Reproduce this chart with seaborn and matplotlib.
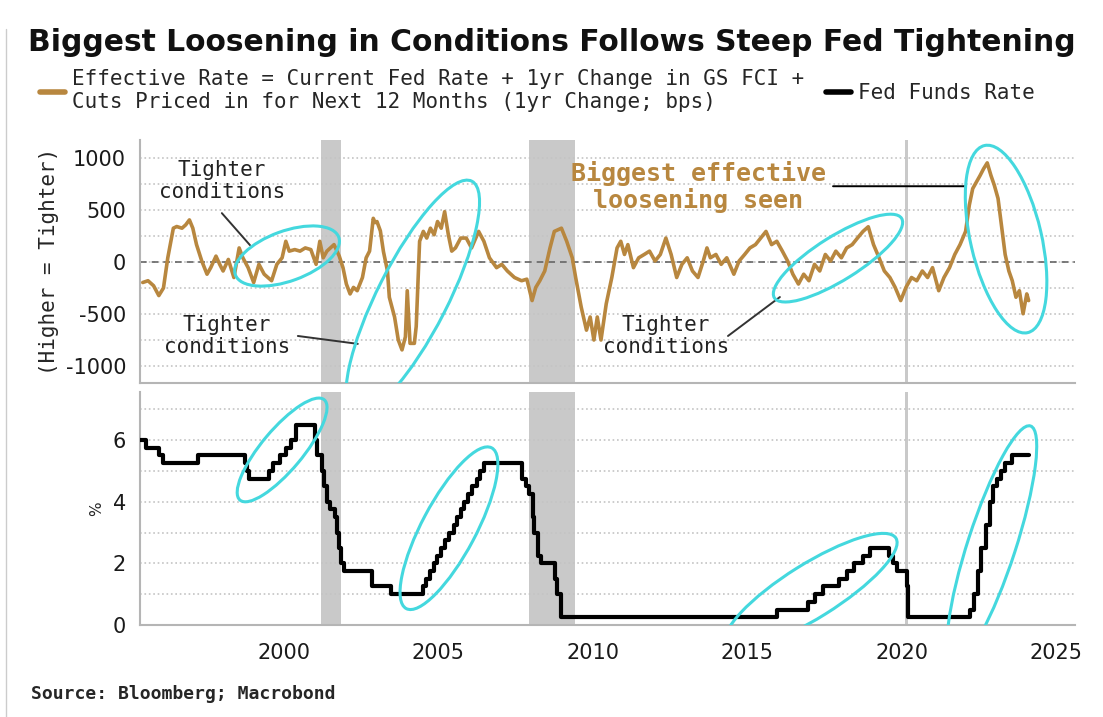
import matplotlib
matplotlib.use('Agg')
import matplotlib.pyplot as plt
from matplotlib.lines import Line2D
from matplotlib.patches import Ellipse
from matplotlib.transforms import ScaledTranslation
from matplotlib.ticker import MultipleLocator
import numpy as np
import pandas as pd
import seaborn as sns

# effective rate, 1yr change in bps
eff_year = [1995.43, 1995.60, 1995.78, 1995.95, 1996.10, 1996.24, 1996.42, 1996.53, 1996.70, 1996.82,
            1996.94, 1997.05, 1997.17, 1997.34, 1997.51, 1997.63, 1997.80, 1997.92, 1998.03, 1998.20,
            1998.38, 1998.55, 1998.67, 1998.84, 1999.02, 1999.19, 1999.36, 1999.60, 1999.77, 1999.94,
            2000.06, 2000.17, 2000.35, 2000.52, 2000.69, 2000.87, 2001.04, 2001.16, 2001.27, 2001.39,
            2001.62, 2001.79, 2001.91, 2002.02, 2002.14, 2002.25, 2002.37, 2002.54, 2002.66, 2002.77,
            2002.89, 2002.95, 2003.01, 2003.12, 2003.22, 2003.35, 2003.41, 2003.58, 2003.70, 2003.82,
            2003.93, 2003.99, 2004.08, 2004.22, 2004.28, 2004.39, 2004.51, 2004.62, 2004.74, 2004.86,
            2004.97, 2005.09, 2005.20, 2005.32, 2005.43, 2005.55, 2005.72, 2005.90, 2006.07, 2006.30,
            2006.47, 2006.65, 2006.88, 2007.05, 2007.23, 2007.46, 2007.69, 2007.86, 2008.03, 2008.15,
            2008.28, 2008.44, 2008.61, 2008.75, 2008.98, 2009.15, 2009.33, 2009.44, 2009.62, 2009.79,
            2009.91, 2010.03, 2010.14, 2010.26, 2010.43, 2010.61, 2010.78, 2010.90, 2011.02, 2011.13,
            2011.31, 2011.48, 2011.66, 2011.83, 2012.01, 2012.18, 2012.36, 2012.53, 2012.71, 2012.88,
            2013.05, 2013.22, 2013.40, 2013.57, 2013.69, 2013.80, 2013.98, 2014.15, 2014.33, 2014.56,
            2014.73, 2014.91, 2015.08, 2015.26, 2015.43, 2015.60, 2015.78, 2015.95, 2016.13, 2016.30,
            2016.47, 2016.65, 2016.82, 2016.99, 2017.17, 2017.34, 2017.52, 2017.69, 2017.86, 2018.04,
            2018.21, 2018.39, 2018.56, 2018.74, 2018.91, 2019.08, 2019.26, 2019.43, 2019.61, 2019.78,
            2019.96, 2020.13, 2020.31, 2020.48, 2020.66, 2020.83, 2020.99, 2021.19, 2021.36, 2021.54,
            2021.71, 2021.88, 2022.06, 2022.18, 2022.29, 2022.41, 2022.53, 2022.64, 2022.76, 2022.88,
            2022.99, 2023.11, 2023.22, 2023.34, 2023.46, 2023.57, 2023.69, 2023.80, 2023.92, 2024.04,
            2024.10]
eff_bps = [-197, -180, -228, -323, -250, 41, 326, 342, 326, 358,
           406, 326, 168, 10, -117, -54, 57, -22, -86, 25,
           -149, 136, 41, -54, -197, -22, -117, -180, -22, 41,
           200, 105, 120, 105, 136, 120, -22, 200, 41, 105,
           168, 57, -54, -212, -307, -244, -276, -149, 41, 105,
           421, 380, 390, 300, 100, -86, -339, -530, -751, -846,
           -720, -276, -783, -783, -620, 200, 295, 231, 326, 263,
           390, 326, 485, 263, 105, 136, 231, 231, 136, 295,
           200, 41, -54, -22, -86, -149, -180, -165, -371, -244,
           -180, -86, 136, 295, 326, 200, 41, -149, -434, -656,
           -529, -751, -529, -751, -402, -149, 136, 200, 73, 168,
           -54, 41, 73, 105, 10, 73, 231, 73, -149, -22,
           41, -86, -149, 10, 136, 41, 73, -22, 41, -117,
           10, 73, 136, 168, 231, 295, 168, 200, 105, 10,
           -117, -212, -117, -180, -22, -86, 73, 10, 105, 41,
           136, 168, 231, 295, 340, 168, 41, -86, -149, -244,
           -371, -244, -149, -180, -86, -149, -54, -276, -149, -54,
           73, 168, 295, 548, 707, 770, 834, 897, 955, 834,
           739, 612, 358, 73, -86, -180, -339, -276, -498, -307,
           -371]

# fed funds rate (upper bound), value from each change date
ffr_year = [1995.33, 1995.54, 1995.96, 1996.08, 1997.23, 1998.74, 1998.79, 1998.88, 1999.50, 1999.65,
            1999.88, 2000.08, 2000.22, 2000.38, 2001.01, 2001.08, 2001.22, 2001.30, 2001.38, 2001.49,
            2001.64, 2001.71, 2001.78, 2001.85, 2001.95, 2002.85, 2003.48, 2004.49, 2004.61, 2004.72,
            2004.86, 2004.95, 2005.09, 2005.22, 2005.34, 2005.49, 2005.60, 2005.72, 2005.83, 2005.95,
            2006.08, 2006.24, 2006.36, 2006.49, 2007.71, 2007.83, 2007.94, 2008.06, 2008.08, 2008.21,
            2008.33, 2008.77, 2008.83, 2008.96, 2015.96, 2016.95, 2017.20, 2017.45, 2017.95, 2018.22,
            2018.45, 2018.74, 2018.97, 2019.58, 2019.71, 2019.83, 2020.17, 2020.20, 2022.20, 2022.34,
            2022.45, 2022.57, 2022.72, 2022.84, 2022.95, 2023.08, 2023.22, 2023.34, 2023.56, 2024.10]
ffr_pct = [6.00, 5.75, 5.50, 5.25, 5.50, 5.25, 5.00, 4.75, 5.00, 5.25,
           5.50, 5.75, 6.00, 6.50, 6.00, 5.50, 5.00, 4.50, 4.00, 3.75,
           3.50, 3.00, 2.50, 2.00, 1.75, 1.25, 1.00, 1.25, 1.50, 1.75,
           2.00, 2.25, 2.50, 2.75, 3.00, 3.25, 3.50, 3.75, 4.00, 4.25,
           4.50, 4.75, 5.00, 5.25, 4.75, 4.50, 4.25, 3.50, 3.00, 2.25,
           2.00, 1.50, 1.00, 0.25, 0.50, 0.75, 1.00, 1.25, 1.50, 1.75,
           2.00, 2.25, 2.50, 2.25, 2.00, 1.75, 1.25, 0.25, 0.50, 1.00,
           1.75, 2.50, 3.25, 4.00, 4.50, 4.75, 5.00, 5.25, 5.50, 5.50]

recessions = [(2001.2, 2001.85), (2007.92, 2009.42), (2020.1, 2020.2)]

x_ticks = [2000, 2005, 2010, 2015, 2020, 2025]
top_ticks = [-1000, -500, 0, 500, 1000]
bottom_ticks = [0, 2, 4, 6]

# hand drawn circles: x, y, width(in), height(in), angle
top_rings = [(2000.1, 58, 1.10, 0.50, 20), (2004.17, -337, 2.60, 0.70, 63),
             (2017.93, 38, 1.50, 0.44, 32), (2023.37, 221, 1.92, 0.71, 103)]
bottom_rings = [(1999.94, 5.68, 1.31, 0.41, 50), (2005.34, 3.14, 1.82, 0.54, 62),
                (2017.06, 1.10, 2.00, 0.54, 32), (2022.91, 2.60, 2.50, 0.48, 72)]

TAN = '#b8873f'
CYAN = '#44d8de'
GRID = '#c4c4c4'
MONO = 'DejaVu Sans Mono'

sns.set_style('white')
plt.rcParams['font.family'] = ['DejaVu Sans']
plt.rcParams['axes.unicode_minus'] = False

fig = plt.figure(figsize=(11.03, 7.17), dpi=100)
ax1 = fig.add_axes([0.1269, 0.4658, 0.8477, 0.3389])
ax2 = fig.add_axes([0.1269, 0.1283, 0.8477, 0.3250], sharex=ax1)

eff = pd.DataFrame({'year': eff_year, 'bps': eff_bps})
ffr = pd.DataFrame({'year': ffr_year, 'rate': ffr_pct})

for ax in (ax1, ax2):
    for a, b in recessions:
        ax.axvspan(a, b, color='#c9c9c9', lw=0, zorder=0)

sns.lineplot(data=eff, x='year', y='bps', ax=ax1, color=TAN, lw=2.6, zorder=3)
sns.lineplot(data=ffr, x='year', y='rate', ax=ax2, color='black', lw=3,
             drawstyle='steps-post', zorder=3)

ax1.set_xlim(1995.34, 2025.6)
ax1.set_ylim(-1165, 1175)
ax2.set_ylim(0, 7.56)

ax1.set_yticks(top_ticks)
ax1.yaxis.set_minor_locator(MultipleLocator(250))
ax2.set_yticks(bottom_ticks)
ax2.yaxis.set_minor_locator(MultipleLocator(1))
ax2.set_xticks(x_ticks)

for ax in (ax1, ax2):
    ax.grid(axis='y', which='both', ls=':', color=GRID, lw=1.2)
    ax.grid(axis='x', visible=False)
    sns.despine(ax=ax)
    for s in ('left', 'bottom'):
        ax.spines[s].set_color('#b5b5b5')
        ax.spines[s].set_linewidth(1.5)
    ax.tick_params(axis='y', which='both', length=0, pad=10, labelsize=15, labelcolor='#1a1a1a')
    ax.set_xlabel('')
ax1.axhline(0, ls=(0, (4, 3)), color='#666666', lw=1.2, zorder=1)
ax1.tick_params(axis='x', labelbottom=False, length=0)
ax2.tick_params(axis='x', length=6, width=1.2, color='#aaaaaa', pad=7, labelsize=15, labelcolor='#1a1a1a')

ax1.set_ylabel('(Higher = Tighter)', fontfamily=MONO, fontsize=15, labelpad=5)
ax2.set_ylabel('%', fontsize=11, labelpad=6)


def ring(ax, x, y, w, h, ang):
    tr = fig.dpi_scale_trans + ScaledTranslation(x, y, ax.transData)
    ax.add_patch(Ellipse((0, 0), w, h, angle=ang, transform=tr, fill=False,
                         ec=CYAN, lw=2.2, zorder=4))


for r in top_rings:
    ring(ax1, *r)
for r in bottom_rings:
    ring(ax2, *r)

# annotations
for xy, xytext, col in [((1998.9, 163), (1997.99, 471), '#333333'),
                        ((2002.39, -788), (2000.45, -712), '#333333'),
                        ((2016.05, -337), (2014.37, -712), '#333333'),
                        ((2022.04, 730), (2017.77, 730), 'black')]:
    ax1.annotate('', xy=xy, xytext=xytext,
                 arrowprops=dict(arrowstyle='-', color=col, lw=1.4, shrinkA=0, shrinkB=0))

for x, y in [(1997.99, 779), (1998.16, -712), (2012.36, -712)]:
    ax1.text(x, y, 'Tighter\nconditions', ha='center', va='center', fontfamily=MONO,
             fontsize=15, color='#222', linespacing=1.1, zorder=5)
ax1.text(2013.4, 726, 'Biggest effective\nloosening seen', ha='center', va='center',
         fontfamily=MONO, fontweight='bold', fontsize=18, color=TAN, linespacing=1.1, zorder=5)

# title, legend, source
fig.text(0.0254, 0.941, 'Biggest Loosening in Conditions Follows Steep Fed Tightening',
         fontsize=21.4, fontweight='bold', va='center', color='#111111')
handles = [Line2D([], [], color=TAN, lw=4), Line2D([], [], color='black', lw=4)]
labels = ['Effective Rate = Current Fed Rate + 1yr Change in GS FCI +\n'
          'Cuts Priced in for Next 12 Months (1yr Change; bps)', 'Fed Funds Rate']
fig.legend(handles, labels, ncol=2, frameon=False, loc='upper left',
           bbox_to_anchor=(0.027, 0.918), borderpad=0, handlelength=1.2,
           handletextpad=0.35, columnspacing=1.0,
           prop={'family': MONO, 'size': 15})
fig.text(0.028, 0.032, 'Source: Bloomberg; Macrobond', fontfamily=MONO,
         fontweight='bold', fontsize=13, va='center')
fig.add_artist(Line2D([0.005, 0.005], [0.0, 0.96], transform=fig.transFigure,
                      color='#cccccc', lw=1))

fig.savefig('out.png', dpi=100)
